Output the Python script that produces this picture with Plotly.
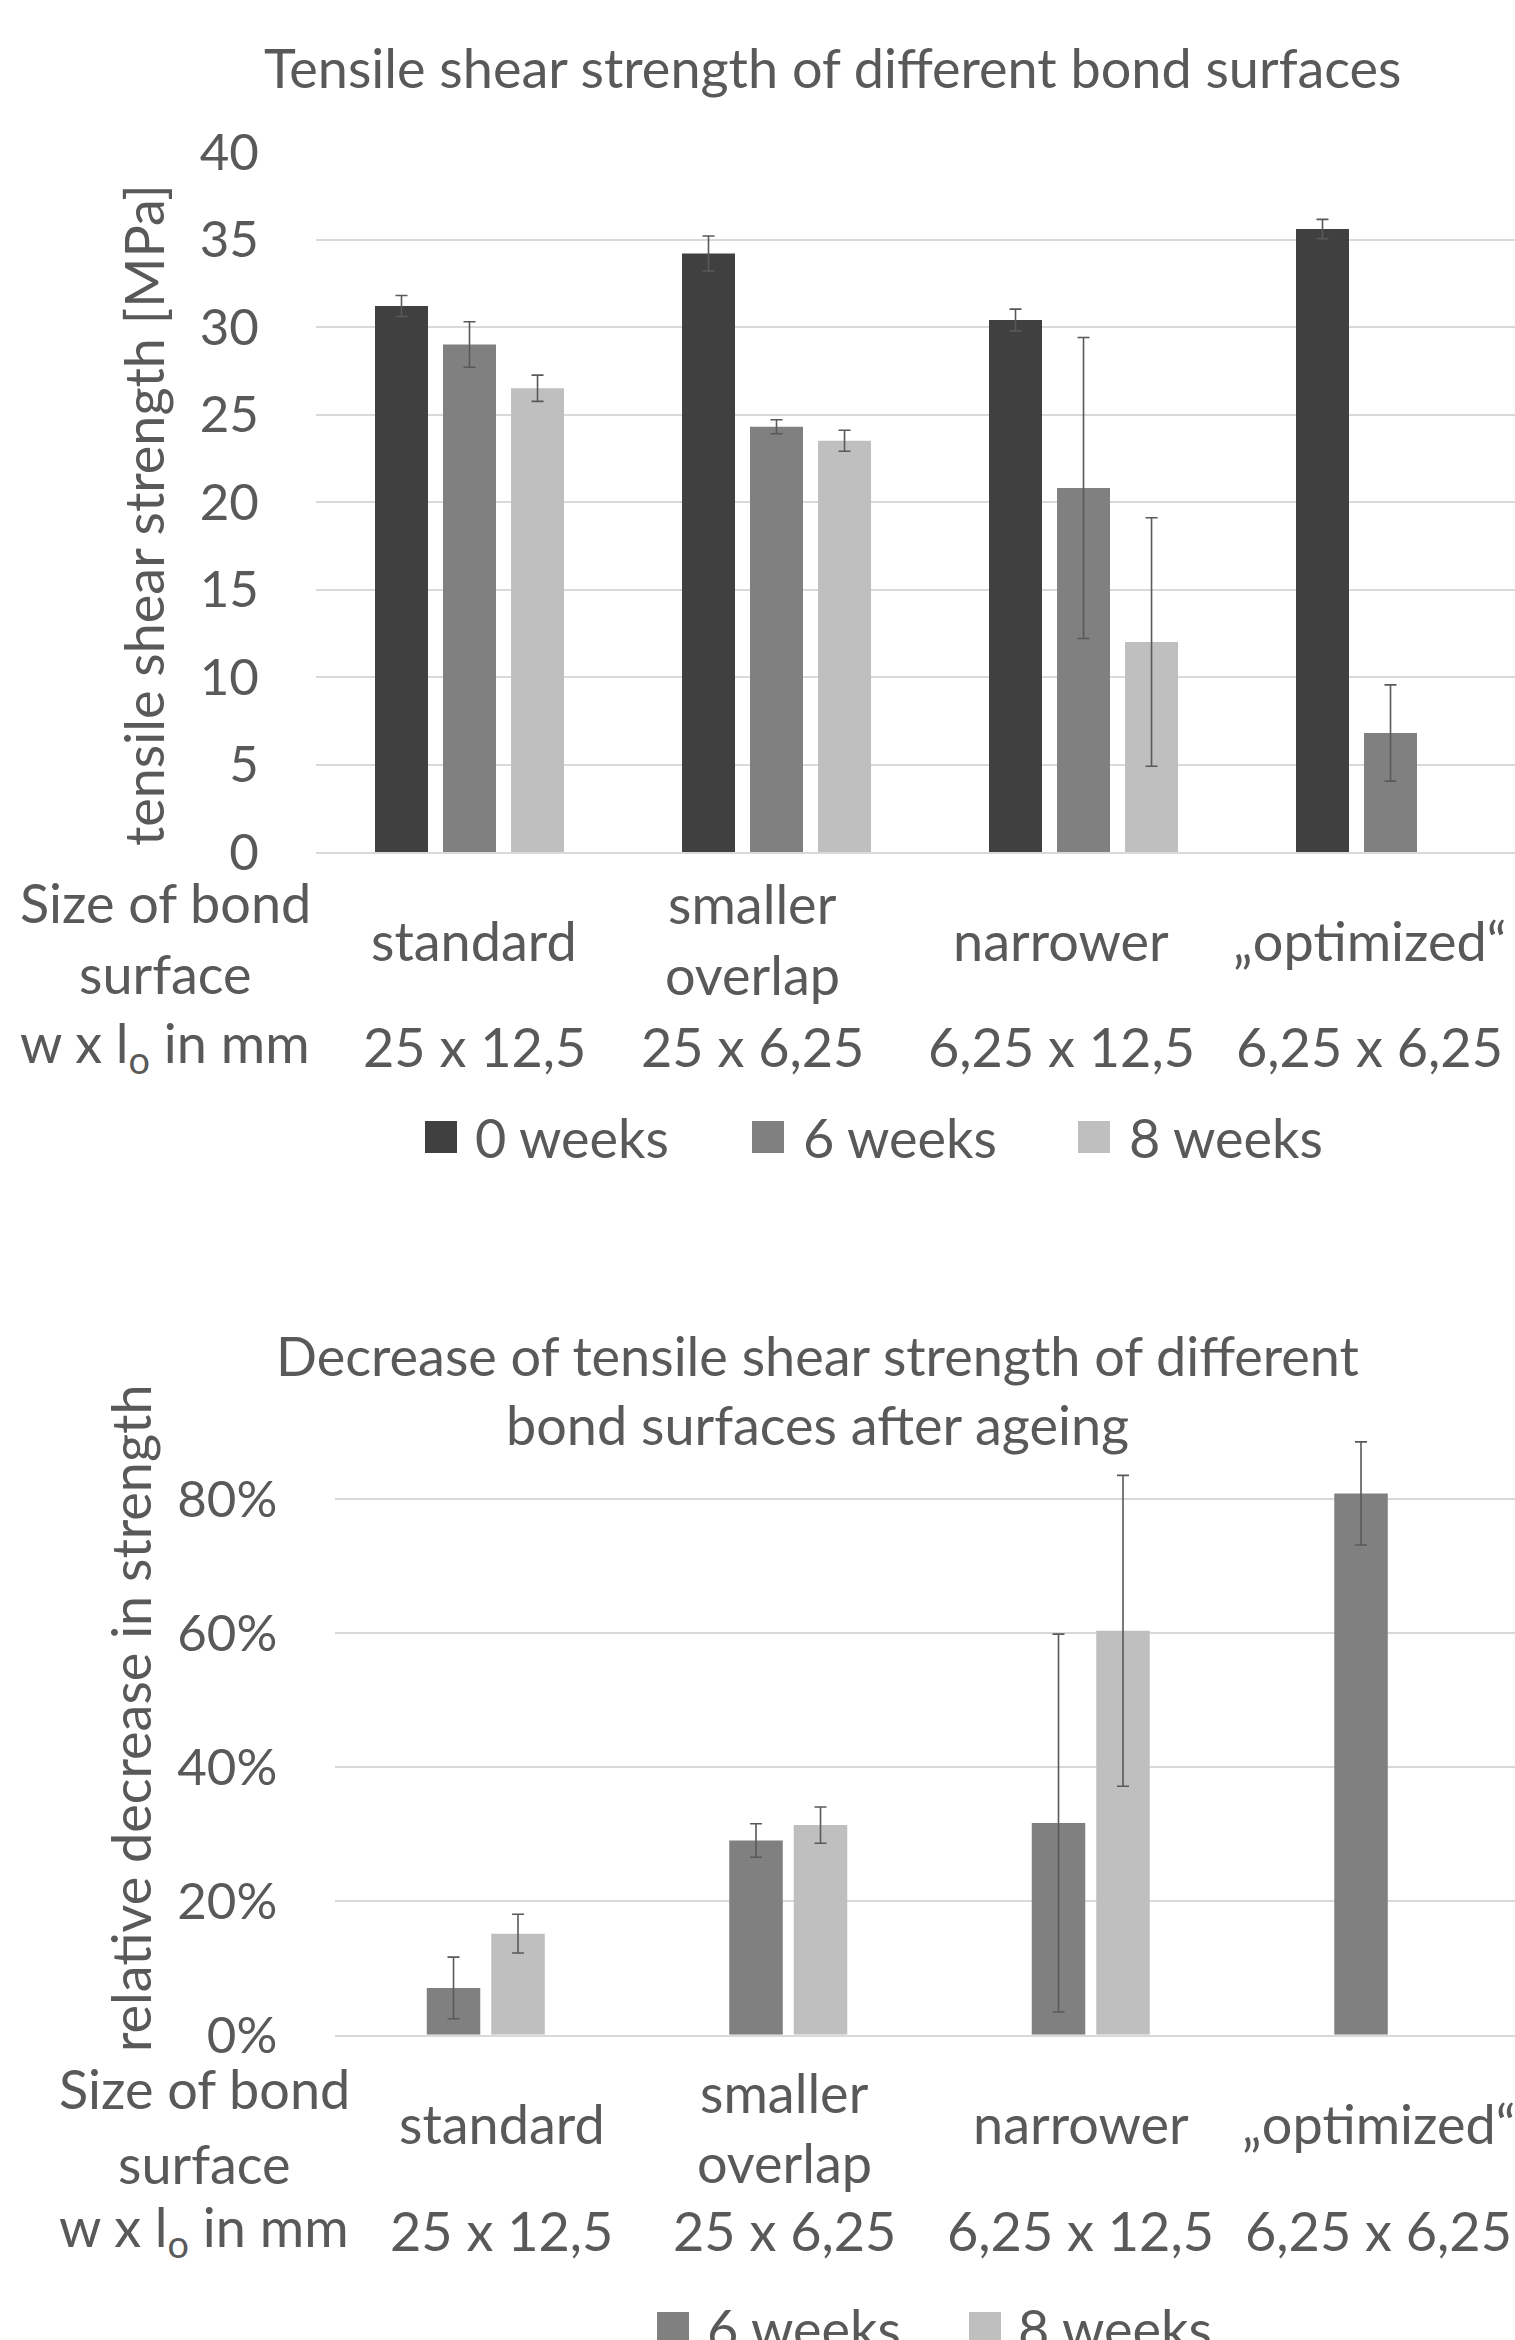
import plotly.graph_objects as go

# ---------------- data ----------------
categories = ["standard", "smaller overlap", "narrower", "„optimized“"]
cat_line1 = ["standard", "smaller", "narrower", "„optimized“"]
cat_line2 = ["", "overlap", "", ""]
dims = ["25 x 12,5", "25 x 6,25", "6,25 x 12,5", "6,25 x 6,25"]

strength_0w = [31.2, 34.2, 30.4, 35.6]
strength_6w = [29.0, 24.3, 20.8, 6.8]
strength_8w = [26.5, 23.5, 12.0, None]
err_0w = [0.6, 1.0, 0.62, 0.55]
err_6w = [1.3, 0.4, 8.6, 2.75]
err_8w = [0.75, 0.6, 7.1, 0]

decrease_6w = [0.070, 0.290, 0.316, 0.808]
decrease_8w = [0.151, 0.313, 0.603, None]
derr_6w = [0.046, 0.025, 0.282, 0.077]
derr_8w = [0.029, 0.027, 0.232, 0]

series_names_top = ["0 weeks", "6 weeks", "8 weeks"]
series_names_bot = ["6 weeks", "8 weeks"]
colors = {"0 weeks": "#404040", "6 weeks": "#808080", "8 weeks": "#BFBFBF"}

# ---------------- style ----------------
W, H = 1515, 2340
FONT = "Lato"
TXT = "#595959"
GRID = "#D9D9D9"
FS = 54      # text size
FS_TICK = 51  # tick label size


def px(x):
    return x / W


def py(y):
    return 1 - y / H


fig = go.Figure()

# top chart bars
bw_top = 0.1726
offs_top = [-0.3078, -0.0863, 0.1353]
for name, vals, errs, off in zip(series_names_top,
                                 [strength_0w, strength_6w, strength_8w],
                                 [err_0w, err_6w, err_8w], offs_top):
    fig.add_trace(go.Bar(
        x=categories, y=vals, name=name, width=bw_top, offset=off,
        marker=dict(color=colors[name], line=dict(width=0)),
        error_y=dict(type="data", array=errs, visible=True, color="#595959",
                     thickness=1.6, width=6),
        xaxis="x", yaxis="y", showlegend=False))

# bottom chart bars
bw_bot = 0.1769
offs_bot = [-0.195, 0.0182]
for name, vals, errs, off in zip(series_names_bot,
                                 [decrease_6w, decrease_8w],
                                 [derr_6w, derr_8w], offs_bot):
    fig.add_trace(go.Bar(
        x=categories, y=vals, name=name, width=bw_bot, offset=off,
        marker=dict(color=colors[name], line=dict(width=0)),
        error_y=dict(type="data", array=errs, visible=True, color="#595959",
                     thickness=1.6, width=6),
        xaxis="x2", yaxis="y2", showlegend=False))

axis_common = dict(showgrid=True, gridcolor=GRID, gridwidth=1.6, zeroline=False,
                   ticks="outside", ticklen=46, tickcolor="rgba(0,0,0,0)",
                   tickfont=dict(family=FONT, size=FS_TICK, color=TXT), showline=False,
                   automargin=False)
xcommon = dict(type="category", showticklabels=False, showgrid=False, zeroline=False,
               showline=True, linecolor=GRID, linewidth=1.6, ticks="", automargin=False)

fig.update_layout(
    width=W, height=H, autosize=False,
    margin=dict(l=0, r=0, t=0, b=0, pad=0, autoexpand=False),
    paper_bgcolor="white", plot_bgcolor="white",
    barmode="overlay", showlegend=False,
    font=dict(family=FONT, color=TXT, size=FS),
    xaxis=dict(domain=[px(316), 1.0], range=[-0.5, 3.4055], anchor="y", **xcommon),
    yaxis=dict(domain=[py(852), py(152)], range=[0, 40], dtick=5, anchor="x",
               **axis_common),
    xaxis2=dict(domain=[px(334.5), 1.0], range=[-0.5, 3.4025], anchor="y2", **xcommon),
    yaxis2=dict(domain=[py(2034.8), py(1431.8)], range=[0, 0.9],
                tickvals=[0, 0.2, 0.4, 0.6, 0.8], tickformat=".0%", anchor="x2",
                **axis_common),
)

ann = []


def text(t, x, y, xref="paper", size=FS, xanchor="center", angle=0):
    ann.append(dict(text=t, x=x, y=y, xref=xref, yref="paper", showarrow=False,
                    xanchor=xanchor, yanchor="middle", textangle=angle,
                    font=dict(family=FONT, size=size, color=TXT)))


# titles
text("Tensile shear strength of different bond surfaces", px(832), py(67))
text("Decrease of tensile shear strength of different", px(817), py(1355))
text("bond surfaces after ageing", px(817), py(1425))

# axis titles
text("tensile shear strength [MPa]", px(143), py(515), angle=-90)
text("relative decrease in strength", px(131), py(1718), angle=-90)

# category label tables
top_off = [0.015, -0.077, -0.073, -0.070]
bot_off = [0.053, -0.011, -0.033, -0.05]
for i in range(len(categories)):
    for xref, off, ysingle, y1, y2, ydim in (("x", top_off, 940, 904, 974, 1046),
                                            ("x2", bot_off, 2123, 2092, 2162, 2230)):
        if cat_line2[i]:
            text(cat_line1[i], i + off[i], py(y1), xref=xref)
            text(cat_line2[i], i + off[i], py(y2), xref=xref)
        else:
            text(cat_line1[i], i + off[i], py(ysingle), xref=xref)
        text(dims[i], i + off[i], py(ydim), xref=xref)

# row headers
text("Size of bond", px(165), py(903))
text("surface", px(165), py(973))
text("w x l<sub>o</sub> in mm", px(165), py(1046))
text("Size of bond", px(204), py(2088))
text("surface", px(204), py(2163))
text("w x l<sub>o</sub> in mm", px(204), py(2230))

# legends
shapes = []
for name, sx, tx in zip(series_names_top, [425, 752, 1078], [473, 801, 1127]):
    shapes.append(dict(type="rect", xref="paper", yref="paper", x0=px(sx), x1=px(sx + 32),
                       y0=py(1153), y1=py(1121), fillcolor=colors[name], line=dict(width=0)))
    text(name, px(tx), py(1137), xanchor="left")
for name, sx, tx in zip(series_names_bot, [657, 969], [705, 1016]):
    shapes.append(dict(type="rect", xref="paper", yref="paper", x0=px(sx), x1=px(sx + 32),
                       y0=py(2344), y1=py(2312), fillcolor=colors[name], line=dict(width=0)))
    text(name, px(tx), py(2328), xanchor="left")

fig.update_layout(annotations=ann, shapes=shapes)

fig.write_html("out.html", config={"displayModeBar": False},
               post_script="document.body.style.margin='0';")
